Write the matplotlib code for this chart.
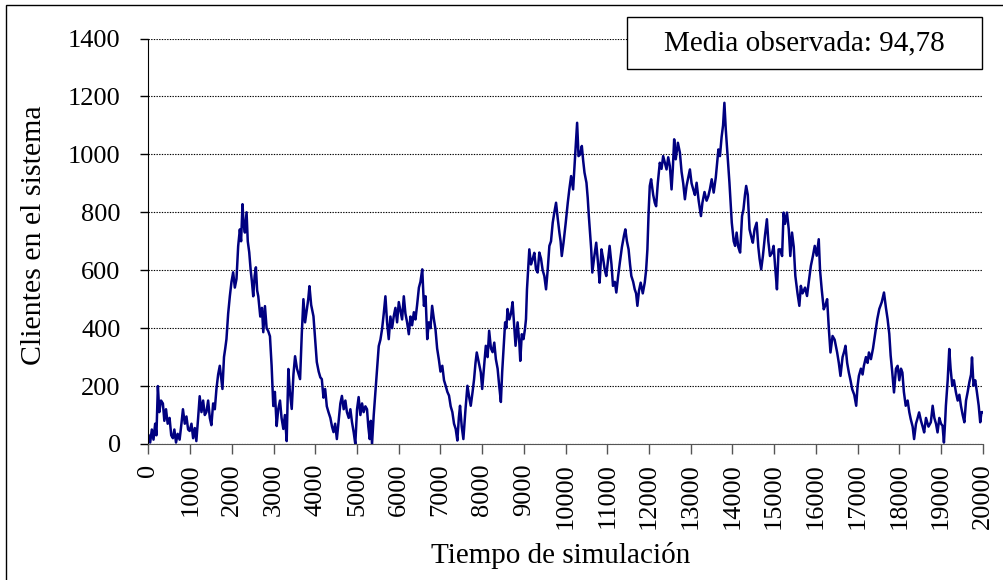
import matplotlib
matplotlib.use('Agg')
import matplotlib.pyplot as plt
from matplotlib.patches import Rectangle

plt.rcParams['font.family'] = ['Liberation Serif', 'DejaVu Serif']

# valores (tiempo, clientes)
tiempo = [
    0, 40, 80, 120, 160, 190, 225, 260, 300, 345,
    380, 420, 460, 505, 545, 585, 620, 660, 700, 746,
    790, 826, 870, 910, 950, 987, 1030, 1070, 1110, 1147,
    1190, 1227, 1270, 1310, 1350, 1388, 1430, 1470, 1508, 1550,
    1590, 1629, 1670, 1709, 1740, 1773, 1810, 1840, 1869, 1910,
    1950, 1990, 2030, 2070, 2110, 2150, 2190, 2220, 2254, 2280,
    2311, 2351, 2380, 2415, 2450, 2480, 2511, 2545, 2575, 2605,
    2632, 2680, 2720, 2752, 2792, 2832, 2870, 2912, 2952, 2992,
    3030, 3073, 3110, 3153, 3190, 3233, 3270, 3313, 3353, 3390,
    3434, 3475, 3514, 3560, 3600, 3634, 3675, 3714, 3754, 3800,
    3830, 3859, 3900, 3955, 3995, 4035, 4080, 4120, 4155, 4195,
    4235, 4275, 4315, 4360, 4400, 4436, 4475, 4516, 4560, 4600,
    4637, 4680, 4720, 4757, 4800, 4840, 4878, 4920, 4958, 5000,
    5038, 5080, 5120, 5158, 5200, 5239, 5270, 5303, 5330, 5359,
    5400, 5439, 5480, 5520, 5560, 5600, 5640, 5680, 5720, 5760,
    5800, 5840, 5880, 5920, 5960, 6001, 6040, 6080, 6121, 6160,
    6200, 6241, 6280, 6320, 6362, 6400, 6440, 6483, 6520, 6563,
    6603, 6643, 6683, 6720, 6760, 6800, 6843, 6880, 6920, 6963,
    7000, 7044, 7085, 7125, 7165, 7205, 7245, 7285, 7325, 7365,
    7405, 7440, 7469, 7510, 7549, 7600, 7646, 7690, 7726, 7770,
    7806, 7840, 7870, 7920, 7967, 8000, 8040, 8087, 8130, 8167,
    8210, 8250, 8290, 8328, 8370, 8408, 8448, 8480, 8512, 8550,
    8580, 8608, 8650, 8690, 8729, 8770, 8800, 8849, 8890, 8913,
    8950, 8990, 9026, 9050, 9074, 9100, 9130, 9170, 9210, 9250,
    9290, 9330, 9370, 9410, 9450, 9490, 9531, 9570, 9611, 9650,
    9691, 9730, 9771, 9810, 9852, 9880, 9908, 9950, 10000, 10052,
    10090, 10132, 10180, 10229, 10250, 10276, 10310, 10350, 10389, 10420,
    10453, 10500, 10530, 10557, 10590, 10614, 10640, 10690, 10734, 10780,
    10815, 10860, 10900, 10940, 10975, 11020, 11055, 11100, 11136, 11180,
    11216, 11260, 11300, 11350, 11400, 11432, 11470, 11510, 11545, 11576,
    11620, 11657, 11690, 11721, 11760, 11800, 11850, 11897, 11930, 11961,
    11990, 12018, 12050, 12100, 12138, 12170, 12210, 12258, 12300, 12339,
    12380, 12420, 12460, 12499, 12540, 12570, 12603, 12640, 12692, 12740,
    12780, 12820, 12860, 12900, 12940, 12980, 13020, 13060, 13100, 13141,
    13190, 13245, 13280, 13330, 13380, 13422, 13460, 13503, 13550, 13600,
    13663, 13700, 13740, 13775, 13807, 13840, 13880, 13928, 13984, 14030,
    14064, 14100, 14140, 14184, 14230, 14264, 14300, 14329, 14368, 14410,
    14465, 14489, 14530, 14580, 14620, 14650, 14689, 14730, 14780, 14826,
    14860, 14900, 14950, 14987, 15030, 15067, 15106, 15147, 15190, 15226,
    15260, 15307, 15350, 15387, 15428, 15470, 15508, 15560, 15604, 15640,
    15680, 15740, 15788, 15830, 15880, 15930, 15973, 16020, 16069, 16100,
    16140, 16189, 16230, 16270, 16310, 16350, 16400, 16450, 16510, 16550,
    16590, 16640, 16680, 16710, 16750, 16790, 16830, 16871, 16920, 16967,
    17000, 17031, 17080, 17120, 17151, 17200, 17240, 17272, 17320, 17370,
    17420, 17472, 17520, 17580, 17633, 17680, 17720, 17760, 17793, 17830,
    17873, 17920, 17960, 18000, 18040, 18074, 18110, 18154, 18200, 18240,
    18274, 18320, 18355, 18400, 18440, 18475, 18520, 18560, 18596, 18640,
    18700, 18756, 18800, 18840, 18880, 18917, 18960, 19000, 19037, 19070,
    19100, 19117, 19160, 19198, 19230, 19270, 19310, 19358, 19400, 19440,
    19478, 19520, 19560, 19600, 19640, 19679, 19720, 19743, 19780, 19820,
    19860, 19904, 19940, 19970, 20000,
]
clientes = [
    30, 5, 50, 15, 70, 30, 200, 110, 150, 140,
    80, 120, 70, 90, 30, 20, 50, 5, 35, 15,
    70, 120, 70, 95, 50, 45, 70, 20, 55, 10,
    90, 165, 110, 150, 100, 110, 150, 90, 65, 140,
    120, 190, 240, 270, 230, 190, 300, 330, 362, 450,
    510, 560, 593, 540, 570, 683, 741, 700, 828, 760,
    730, 800, 700, 662, 600, 560, 510, 580, 610, 530,
    510, 440, 470, 386, 476, 400, 390, 372, 270, 131,
    180, 62, 120, 150, 90, 52, 100, 10, 259, 180,
    121, 240, 303, 260, 240, 224, 380, 500, 420, 470,
    500, 545, 480, 441, 360, 283, 250, 230, 224, 160,
    190, 130, 110, 90, 60, 41, 70, 17, 80, 140,
    166, 120, 150, 110, 90, 120, 76, 40, 0, 120,
    162, 100, 140, 110, 130, 120, 60, 17, 80, 0,
    100, 179, 260, 338, 360, 397, 450, 510, 420, 362,
    440, 400, 441, 470, 420, 490, 460, 430, 510, 450,
    420, 379, 440, 410, 455, 430, 480, 540, 560, 603,
    477, 510, 362, 420, 400, 477, 430, 397, 330, 290,
    250, 270, 220, 201, 180, 167, 130, 110, 70, 52,
    12, 90, 132, 60, 17, 120, 201, 160, 132, 180,
    224, 280, 316, 280, 247, 190, 260, 339, 300, 391,
    330, 317, 350, 293, 260, 201, 145, 250, 328, 420,
    400, 466, 430, 450, 490, 400, 339, 420, 350, 287,
    379, 362, 397, 431, 534, 600, 672, 620, 638, 660,
    603, 592, 661, 640, 600, 580, 534, 600, 684, 700,
    764, 800, 833, 780, 729, 700, 649, 695, 760, 833,
    880, 925, 879, 994, 1040, 1109, 994, 1000, 1029, 980,
    937, 902, 850, 787, 720, 672, 592, 650, 695, 620,
    557, 672, 640, 600, 580, 640, 684, 620, 546, 560,
    523, 580, 626, 680, 720, 741, 700, 672, 620, 580,
    560, 534, 520, 477, 530, 557, 520, 557, 600, 672,
    800, 891, 914, 860, 833, 821, 900, 971, 950, 994,
    970, 948, 990, 960, 879, 950, 1052, 983, 1040, 1006,
    940, 900, 845, 891, 920, 948, 900, 879, 860, 902,
    840, 787, 833, 870, 840, 856, 880, 914, 868, 920,
    1017, 994, 1060, 1100, 1178, 1086, 1000, 902, 764, 700,
    684, 730, 680, 661, 787, 810, 860, 891, 860, 741,
    707, 695, 741, 764, 680, 640, 603, 649, 720, 776,
    700, 649, 660, 684, 600, 534, 672, 672, 649, 799,
    760, 799, 741, 649, 730, 680, 580, 520, 477, 546,
    520, 540, 511, 560, 615, 650, 684, 650, 707, 600,
    534, 465, 480, 500, 400, 316, 373, 360, 316, 280,
    235, 300, 320, 339, 280, 247, 220, 189, 170, 132,
    200, 235, 260, 240, 270, 300, 280, 316, 293, 330,
    380, 431, 466, 490, 523, 470, 431, 380, 305, 250,
    178, 260, 270, 220, 260, 247, 180, 132, 150, 110,
    86, 60, 17, 70, 90, 109, 80, 60, 40, 90,
    60, 75, 132, 90, 70, 40, 90, 70, 63, 5,
    80, 132, 220, 328, 260, 201, 220, 178, 150, 170,
    132, 100, 75, 150, 180, 213, 240, 299, 201, 220,
    180, 132, 75, 110, 110,
]
y_ticks = [0, 200, 400, 600, 800, 1000, 1200, 1400]
x_ticks = list(range(0, 20001, 1000))
media_texto = 'Media observada: 94,78'

fig = plt.figure(figsize=(10.04, 5.8), dpi=100)
ax = fig.add_axes([0.1479, 0.2345, 0.8309, 0.6991])

ax.plot(tiempo, clientes, color='#000080', lw=1.8)

ax.set_xlim(0, 20000)
ax.set_ylim(0, 1400)
ax.set_yticks(y_ticks)
ax.set_xticks(x_ticks)
ax.set_xticklabels([str(t) for t in x_ticks], rotation=90)

ax.yaxis.grid(True, color='black', linestyle=(0, (1.2, 1.2)), lw=0.8)
ax.set_axisbelow(True)

for s in ['top', 'right']:
    ax.spines[s].set_visible(False)
ax.spines['left'].set_color('black')
ax.spines['bottom'].set_color('#555555')

ax.tick_params(axis='y', direction='out', length=6, width=1, pad=14, labelsize=19)
ax.tick_params(axis='x', direction='out', length=7, width=1, pad=7, labelsize=19, color='#555555')

fig.text(0.0335, 0.595, 'Clientes en el sistema', rotation=90, ha='center', va='center', fontsize=21.5)
fig.text(0.558, 0.043, 'Tiempo de simulación', ha='center', va='center', fontsize=21)

# cuadro con la media
fig.add_artist(Rectangle((0.6245, 0.881), 0.3536, 0.0897, transform=fig.transFigure,
                         facecolor='white', edgecolor='black', lw=1, zorder=3))
fig.text(0.8013, 0.9259, media_texto, ha='center', va='center', fontsize=21, zorder=4)

# marco exterior
fig.add_artist(Rectangle((0.006, -0.1), 1.0, 1.0914, transform=fig.transFigure,
                         fill=False, edgecolor='black', lw=1))

fig.savefig('out.png', dpi=100)
